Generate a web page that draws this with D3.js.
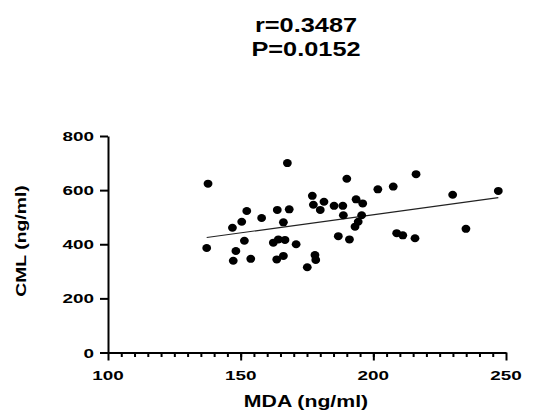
<!DOCTYPE html>
<html>
<head>
<meta charset="utf-8">
<script src="https://d3js.org/d3.v7.min.js"></script>
<style>
  body { margin: 0; background: #fff; }
  svg { display: block; }
  text { font-family: "Liberation Sans", Arial, sans-serif; font-weight: bold; fill: #000; }
</style>
</head>
<body>
<script>
"use strict";

// MDA (ng/ml) vs CML (ng/ml)
var mda = [137.7, 167.6, 152.3, 150.4, 146.9, 157.9, 163.8, 168.3, 166.1, 177.0,
           177.4, 151.4, 137.2, 148.2, 147.2, 153.8, 162.3, 164.2, 166.7, 170.9,
           163.6, 166.1, 178.0, 178.3, 175.1, 190.0, 216.1, 201.7, 207.5, 229.9,
           247.1, 181.4, 180.0, 185.2, 188.5, 193.5, 196.0, 188.7, 195.6, 194.3,
           193.1, 186.8, 191.0, 208.8, 211.1, 215.7, 234.9];
var cml = [624, 700, 523, 483, 461, 497, 527, 529, 481, 579,
           546, 413, 386, 375, 339, 346, 406, 418, 416, 400,
           344, 357, 360, 342, 315, 642, 659, 603, 613, 583,
           597, 557, 527, 542, 542, 566, 551, 507, 507, 483,
           465, 430, 418, 441, 433, 422, 457];

// fitted line ends
var fitX = [137.2, 247.1];
var fitY = [425, 572];

var statLines = ["r=0.3487", "P=0.0152"];
var xTicks = [100, 150, 200, 250];
var yTicks = [0, 200, 400, 600, 800];

var width = 540, height = 411;

var svg = d3.select("body").append("svg")
    .attr("width", width)
    .attr("height", height);

var x = d3.scaleLinear().domain([100, 250]).range([108, 506]);
var y = d3.scaleLinear().domain([0, 800]).range([352.5, 136]);

// text that is a bit wider than the installed fonts
function wideText(g, str, px, py, size, sx, anchor, rot) {
    return g.append("text")
        .attr("transform", "translate(" + px + "," + py + ")" + (rot ? " rotate(" + rot + ")" : "") + " scale(" + sx + ",1)")
        .attr("text-anchor", anchor || "middle")
        .style("font-size", size + "px")
        .text(str);
}

// stats on top
statLines.forEach(function(s, i) {
    wideText(svg, s, 306, 31.5 + i * 24.5, 19.5, 1.3);
});

// minor x ticks
svg.append("g")
    .attr("transform", "translate(0," + y(0) + ")")
    .call(d3.axisBottom(x).tickValues(d3.range(105, 250, 5)).tickSize(4.5).tickFormat(""))
    .call(function(g) { g.select(".domain").remove(); })
    .selectAll("line").attr("stroke-width", 2);

// x axis
var xAxis = svg.append("g")
    .attr("transform", "translate(0," + y(0) + ")")
    .call(d3.axisBottom(x).tickValues(xTicks).tickSize(8).tickSizeOuter(0).tickFormat(d3.format("d")));
xAxis.select(".domain").attr("stroke-width", 2);
xAxis.selectAll("line").attr("stroke-width", 2);
xAxis.selectAll("text").remove();
xTicks.forEach(function(t) {
    wideText(svg, t, x(t), y(0) + 27, 13.5, 1.4);
});

// y axis
var yAxis = svg.append("g")
    .attr("transform", "translate(" + x(100) + ",0)")
    .call(d3.axisLeft(y).tickValues(yTicks).tickSize(8).tickSizeOuter(0));
yAxis.select(".domain").attr("stroke-width", 2);
yAxis.selectAll("line").attr("stroke-width", 2);
yAxis.selectAll("text").remove();
yTicks.forEach(function(t) {
    wideText(svg, t, x(100) - 14, y(t) + 5, 13.5, 1.4, "end");
});

// axis titles
wideText(svg, "MDA (ng/ml)", 306, 407, 17, 1.25);
wideText(svg, "CML (ng/ml)", 26, 241, 15.5, 1.25, "middle", -90);

// fit line
svg.append("line")
    .attr("x1", x(fitX[0])).attr("y1", y(fitY[0]))
    .attr("x2", x(fitX[1])).attr("y2", y(fitY[1]))
    .attr("stroke", "#222")
    .attr("stroke-width", 1.2);

// points
svg.append("g").selectAll("ellipse")
    .data(d3.range(mda.length))
    .join("ellipse")
    .attr("cx", function(i) { return x(mda[i]); })
    .attr("cy", function(i) { return y(cml[i]); })
    .attr("rx", 4.4)
    .attr("ry", 4)
    .attr("fill", "#000");
</script>
</body>
</html>
